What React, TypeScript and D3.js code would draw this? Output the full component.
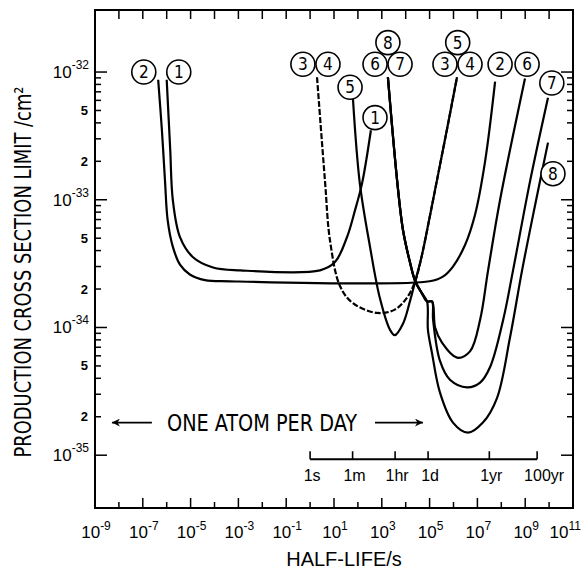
import React, { useRef, useEffect } from 'react';
import * as d3 from 'd3';

// [half-life (s), production cross section limit (cm^2)]
const curve1 = [[1.0e-6, 8.7e-33], [1.4e-6, 2.5e-33], [1.8e-6, 1.0e-33], [3.6e-6, 5.1e-34], [1.26e-5, 3.55e-34],
    [8.7e-5, 2.95e-34], [1.2e-3, 2.8e-34], [2.6, 2.8e-34], [11, 3.25e-34], [35, 5.1e-34], [76, 8.3e-34],
    [150, 1.35e-33], [350, 3.5e-33]];
const curve2 = [[4.4e-7, 8.7e-33], [6.3e-7, 3.5e-33], [8.5e-7, 1.4e-33], [1.1e-6, 6.9e-34], [1.8e-6, 4.3e-34],
    [3.6e-6, 3.1e-34], [9.3e-6, 2.6e-34], [4.0e-5, 2.35e-34], [4.5e-4, 2.3e-34], [1.0e5, 2.3e-34],
    [3.6e5, 2.5e-34], [9.5e5, 3.0e-34], [3.0e6, 4.4e-34], [7.9e6, 7.6e-34], [2.1e7, 2.0e-33], [5.5e7, 8.4e-33]];
const curve34 = [[1.95, 9.1e-33], [4.2, 1.4e-33], [6.8, 4.8e-34], [18, 2.1e-34], [62, 1.55e-34], [630, 1.3e-34],
    [3.5e3, 1.38e-34], [1.1e4, 1.7e-34], [2.5e4, 2.3e-34], [4.8e4, 3.7e-34], [1.05e5, 7.6e-34], [2.0e5, 1.4e-33],
    [5.4e5, 3.6e-33], [1.4e6, 9.1e-33]];
const curve5 = [[62, 6.2e-33], [120, 1.35e-33], [320, 4.3e-34], [830, 1.7e-34], [2.2e3, 9.6e-35], [3.5e3, 8.7e-35],
    [7.7e3, 1.07e-34], [1.5e4, 1.6e-34], [2.5e4, 2.3e-34], [4.8e4, 3.7e-34], [1.05e5, 7.6e-34], [2.0e5, 1.4e-33],
    [5.4e5, 3.6e-33], [1.4e6, 9.1e-33]];
const common678 = [[1.8e3, 9.1e-33], [4.4e3, 1.4e-33], [7.7e3, 5.8e-34], [1.5e4, 3.25e-34], [2.5e4, 2.3e-34],
    [4.8e4, 1.85e-34], [7.8e4, 1.6e-34]];
const curve6 = [[1.26e5, 1.6e-34], [1.7e5, 1.0e-34], [3.3e5, 7.6e-35], [1.4e6, 5.8e-35], [4.9e6, 6.5e-35],
    [1.3e7, 1.15e-34], [2.8e7, 2.8e-34], [8.9e7, 1.0e-33], [9.8e8, 8.9e-33]];
const curve7 = [[1.26e5, 1.6e-34], [1.4e5, 1.15e-34], [2.7e5, 5.5e-35], [7.1e5, 3.9e-35], [3.7e6, 3.4e-35],
    [1.3e7, 3.7e-35], [3.4e7, 4.9e-35], [1.2e8, 1.15e-34], [3.1e8, 2.8e-34], [1.6e9, 1.4e-33], [9.0e9, 6.3e-33]];
const curve8 = [[8.5e4, 9.6e-35], [1.26e5, 6.3e-35], [2.7e5, 3.1e-35], [9.5e5, 1.8e-35], [4.0e6, 1.5e-35],
    [1.7e7, 1.8e-35], [6.6e7, 2.8e-35], [2.3e8, 8.3e-35], [7.4e8, 2.8e-34], [2.6e9, 9.1e-34], [9.0e9, 2.8e-33]];

// circled curve numbers: [text, half-life, sigma]
const curveLabels = [
    ['2', 1.1e-7, 1.0e-32], ['1', 3.2e-6, 1.0e-32],
    ['3', 0.5, 1.15e-32], ['4', 5.6, 1.15e-32], ['5', 47, 7.6e-33], ['1', 520, 4.4e-33],
    ['8', 1.8e3, 1.7e-32], ['6', 520, 1.15e-32], ['7', 5.8e3, 1.15e-32],
    ['5', 1.5e6, 1.7e-32], ['3', 4.4e5, 1.15e-32], ['4', 4.9e6, 1.15e-32],
    ['2', 8.9e7, 1.15e-32], ['6', 1.2e9, 1.15e-32], ['7', 1.3e10, 8.2e-33], ['8', 1.45e10, 1.6e-33]
];

const timeNames = ['1s', '1m', '1hr', '1d', '1yr', '100yr'];
const timeSeconds = [1, 60, 3600, 86400, 3.156e7, 3.156e9];
const timeAxisLevel = 9.3e-36;

const oneAtomLevel = 1.8e-35;
const leftArrow = [5.1e-9, 2.4e-7];
const rightArrow = [520, 5.3e4];

const xExponents = d3.range(-9, 12);
const yExponents = [-35, -34, -33, -32];

const condensed = "'DejaVu Sans Condensed', 'Liberation Sans Narrow', sans-serif";
const plain = "'Liberation Sans', Arial, sans-serif";

function App() {
    const ref = useRef();
    useEffect(() => {
        const svg = d3.select(ref.current);
        svg.selectAll('*').remove();

        const x = d3.scaleLog().domain([1e-9, 1e11]).range([95, 573]);
        const y = d3.scaleLog().domain([3.86e-36, 3.06e-32]).range([508, 10]);
        const [x0, x1] = x.range();
        const [y0, y1] = y.range();

        svg.append('defs').append('marker')
            .attr('id', 'head').attr('viewBox', '0 0 10 10')
            .attr('refX', 10).attr('refY', 5)
            .attr('markerWidth', 14).attr('markerHeight', 8)
            .attr('markerUnits', 'userSpaceOnUse')
            .attr('orient', 'auto')
            .append('path').attr('d', 'M0,0 L10,5 L0,10 L3,5 Z').attr('fill', '#000');

        // frame
        svg.append('rect')
            .attr('x', x0).attr('y', y1)
            .attr('width', x1 - x0).attr('height', y0 - y1)
            .attr('fill', 'none').attr('stroke', '#000').attr('stroke-width', 2);

        // x ticks
        const g = svg.append('g').attr('stroke', '#000').attr('stroke-width', 1.5);
        xExponents.forEach(e => {
            if (e === -9 || e === 11) return;
            const px = x(Math.pow(10, e));
            const long = Math.abs(e) % 2 === 1;
            g.append('line').attr('x1', px).attr('x2', px).attr('y1', y0).attr('y2', y0 - (long ? 10 : 6));
            g.append('line').attr('x1', px).attr('x2', px).attr('y1', y1).attr('y2', y1 + 9);
        });
        xExponents.filter(e => Math.abs(e) % 2 === 1).forEach(e => {
            const t = svg.append('text')
                .attr('x', e === 11 ? 581 : x(Math.pow(10, e)) + 1).attr('y', 538)
                .attr('text-anchor', e === 11 ? 'end' : 'middle')
                .attr('font-family', plain).attr('font-size', 17);
            t.append('tspan').text('10');
            t.append('tspan').attr('dy', -8).attr('font-size', 12).text(e);
        });

        // y ticks
        yExponents.forEach(e => {
            const base = Math.pow(10, e);
            const py = y(base);
            g.append('line').attr('x1', x0).attr('x2', x0 + 12).attr('y1', py).attr('y2', py);
            g.append('line').attr('x1', x1).attr('x2', x1 - 12).attr('y1', py).attr('y2', py);
            const t = svg.append('text')
                .attr('x', 89).attr('y', py + 6)
                .attr('text-anchor', 'end')
                .attr('font-family', plain).attr('font-size', 17);
            t.append('tspan').text('10');
            t.append('tspan').attr('dy', -9).attr('font-size', 12).text(e);
            if (e === -32) return;
            d3.range(2, 10).forEach(m => {
                const pm = y(m * base);
                g.append('line').attr('x1', x0).attr('x2', x0 + 6).attr('y1', pm).attr('y2', pm);
                g.append('line').attr('x1', x1).attr('x2', x1 - 6).attr('y1', pm).attr('y2', pm);
                if (m === 2 || m === 5) {
                    svg.append('text')
                        .attr('x', 88).attr('y', pm + 4.5)
                        .attr('text-anchor', 'end')
                        .attr('font-family', plain).attr('font-weight', 'bold').attr('font-size', 13)
                        .text(m);
                }
            });
        });

        // axis titles
        svg.append('text')
            .attr('transform', 'translate(31,272) rotate(-90)')
            .attr('text-anchor', 'middle')
            .attr('font-family', condensed).attr('font-size', 23)
            .attr('textLength', 371).attr('lengthAdjust', 'spacingAndGlyphs')
            .text('PRODUCTION CROSS SECTION LIMIT /cm²');
        svg.append('text')
            .attr('x', 344).attr('y', 566)
            .attr('text-anchor', 'middle')
            .attr('font-family', plain).attr('font-size', 20)
            .text('HALF-LIFE/s');

        // curves
        const line = d3.line()
            .x(d => x(d[0]))
            .y(d => y(d[1]))
            .curve(d3.curveCatmullRom.alpha(0.5));
        const series = [
            { pts: curve1, dash: null },
            { pts: curve2, dash: null },
            { pts: curve34, dash: '6,2' },
            { pts: curve5, dash: null },
            { pts: common678.concat(curve6), dash: null },
            { pts: common678.concat(curve7), dash: null },
            { pts: common678.concat(curve8), dash: null }
        ];
        svg.append('g').selectAll('path')
            .data(series)
            .enter().append('path')
            .attr('d', d => line(d.pts))
            .attr('fill', 'none')
            .attr('stroke', '#000')
            .attr('stroke-width', 2.2)
            .attr('stroke-dasharray', d => d.dash);

        // circled labels
        const lab = svg.append('g').selectAll('g')
            .data(curveLabels)
            .enter().append('g')
            .attr('transform', d => 'translate(' + x(d[1]) + ',' + y(d[2]) + ')');
        lab.append('circle').attr('r', 12).attr('fill', '#fff').attr('stroke', '#000').attr('stroke-width', 1.6);
        lab.append('text')
            .attr('y', 6)
            .attr('text-anchor', 'middle')
            .attr('font-family', condensed).attr('font-size', 17)
            .text(d => d[0]);

        // one atom per day
        const pa = y(oneAtomLevel);
        svg.append('line')
            .attr('x1', x(leftArrow[1])).attr('x2', x(leftArrow[0]))
            .attr('y1', pa).attr('y2', pa)
            .attr('stroke', '#000').attr('stroke-width', 1.6).attr('marker-end', 'url(#head)');
        svg.append('line')
            .attr('x1', x(rightArrow[0])).attr('x2', x(rightArrow[1]))
            .attr('y1', pa).attr('y2', pa)
            .attr('stroke', '#000').attr('stroke-width', 1.6).attr('marker-end', 'url(#head)');
        svg.append('text')
            .attr('x', 167).attr('y', pa + 8)
            .attr('font-family', condensed).attr('font-size', 23)
            .attr('textLength', 190).attr('lengthAdjust', 'spacingAndGlyphs')
            .text('ONE ATOM PER DAY');

        // time scale inset
        const pt = y(timeAxisLevel);
        const tx = timeSeconds.map(s => x(s));
        svg.append('line')
            .attr('x1', tx[0]).attr('x2', tx[tx.length - 1])
            .attr('y1', pt).attr('y2', pt)
            .attr('stroke', '#000').attr('stroke-width', 2);
        timeSeconds.forEach((s, i) => {
            svg.append('line')
                .attr('x1', tx[i]).attr('x2', tx[i])
                .attr('y1', pt).attr('y2', pt - 8)
                .attr('stroke', '#000').attr('stroke-width', 1.6);
            svg.append('text')
                .attr('x', tx[i] + (i === 5 ? 7 : 2)).attr('y', pt + 22)
                .attr('text-anchor', 'middle')
                .attr('font-family', plain).attr('font-size', 16)
                .text(timeNames[i]);
        });
    }, []);
    return (
        <svg ref={ref} width="582" height="572"
            style={{ position: 'absolute', left: 0, top: 0, background: '#fff' }}></svg>
    );
}

export default App;
